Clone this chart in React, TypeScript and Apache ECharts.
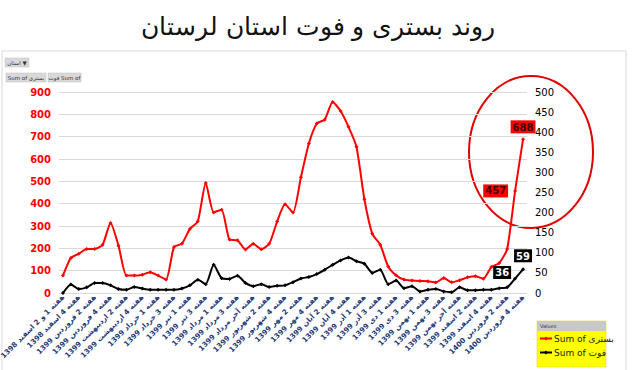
import React, { useEffect, useRef } from "react";
import * as echarts from "echarts";

const categories: string[] = [
  "هفته 1 و 2 اسفند 1398", "هفته 3 اسفند 1398", "هفته 4 اسفند 1398",
  "هفته 1 فروردین 1399", "هفته 2 فروردین 1399", "هفته 3 فروردین 1399", "هفته 4 فروردین 1399",
  "هفته 1 اردیبهشت 1399", "هفته 2 اردیبهشت 1399", "هفته 3 اردیبهشت 1399", "هفته 4 اردیبهشت 1399", "هفته آخر اردیبهشت 1399",
  "هفته 1 خرداد 1399", "هفته 2 خرداد 1399", "هفته 3 خرداد 1399", "هفته 4 خرداد 1399",
  "هفته 1 تیر 1399", "هفته 2 تیر 1399", "هفته 3 تیر 1399", "هفته 4 تیر 1399",
  "هفته 1 مرداد 1399", "هفته 2 مرداد 1399", "هفته 3 مرداد 1399", "هفته 4 مرداد 1399", "هفته آخر مرداد 1399",
  "هفته 1 شهریور 1399", "هفته 2 شهریور 1399", "هفته 3 شهریور 1399", "هفته 4 شهریور 1399",
  "هفته 1 مهر 1399", "هفته 2 مهر 1399", "هفته 3 مهر 1399", "هفته 4 مهر 1399",
  "هفته 1 آبان 1399", "هفته 2 آبان 1399", "هفته 3 آبان 1399", "هفته 4 آبان 1399", "هفته آخر آبان 1399",
  "هفته 1 آذر 1399", "هفته 2 آذر 1399", "هفته 3 آذر 1399", "هفته 4 آذر 1399",
  "هفته 1 دی 1399", "هفته 2 دی 1399", "هفته 3 دی 1399", "هفته 4 دی 1399",
  "هفته 1 بهمن 1399", "هفته 2 بهمن 1399", "هفته 3 بهمن 1399", "هفته 4 بهمن 1399", "هفته آخر بهمن 1399",
  "هفته 1 اسفند 1399", "هفته 2 اسفند 1399", "هفته 3 اسفند 1399", "هفته 4 اسفند 1399",
  "هفته 1 فروردین 1400", "هفته 2 فروردین 1400", "هفته 3 فروردین 1400", "هفته 4 فروردین 1400",
];

const hospitalized: number[] = [
  78, 157, 176, 197, 197, 216, 313, 212, 78, 78, 82, 93, 78, 60, 206, 221, 287, 321, 493, 361,
  373, 239, 236, 195, 220, 196, 220, 320, 397, 360, 518, 669, 759, 776, 855, 815, 744, 655, 420, 265,
  216, 119, 79, 60, 56, 54, 53, 47, 67, 48, 57, 70, 75, 64, 116, 134, 197, 457, 688,
];

const deaths: number[] = [
  0, 21, 10, 14, 25, 25, 19, 10, 8, 15, 11, 8, 8, 8, 8, 11, 19, 33, 22, 70,
  37, 35, 43, 25, 17, 22, 15, 18, 19, 27, 36, 40, 47, 58, 70, 81, 88, 79, 73, 50,
  58, 22, 31, 12, 17, 4, 8, 10, 4, 2, 14, 7, 7, 8, 8, 12, 14, 36, 59,
];

const leftTicks = { min: 0, max: 900, interval: 100 };
const rightTicks = { min: 0, max: 500, interval: 50 };

const titleText = "روند بستری و فوت استان لرستان";
const nameHosp = "Sum of بستری";
const nameDeath = "Sum of فوت";

export default function App() {
  const ref = useRef<HTMLDivElement>(null);
  useEffect(() => {
    if (!ref.current) return;
    const chart = echarts.init(ref.current, undefined, { renderer: "svg" });
    const n = hospitalized.length;
    const hospData = hospitalized.map((v, i) => {
      if (i === n - 1)
        return { value: v, label: { show: true, position: "top", distance: 4, formatter: "688" } };
      if (i === n - 2)
        return { value: v, label: { show: true, position: "left", distance: 5, formatter: "457" } };
      return v;
    });
    const deathData = deaths.map((v, i) => {
      if (i === n - 1)
        return { value: v, label: { show: true, position: "top", distance: 5, formatter: "59" } };
      if (i === n - 2)
        return { value: v, label: { show: true, position: "left", distance: 2, offset: [0, -6], formatter: "36" } };
      return v;
    });
    const btn = (x: number, y: number, w: number, h: number, t: string) => ({
      type: "group",
      children: [
        { type: "rect", shape: { x, y, width: w, height: h }, style: { fill: "#d9d9d9", stroke: "#bfbfbf", lineWidth: 0.5 } },
        { type: "text", x: x + w / 2, y: y + h / 2, style: { text: t, fontSize: 5.5, fill: "#333", align: "center", verticalAlign: "middle", fontFamily: "DejaVu Sans" } },
      ],
    });
    chart.setOption({
      animation: false,
      backgroundColor: "#ffffff",
      title: {
        text: titleText,
        left: 313,
        top: 9,
        textAlign: "center",
        textStyle: { fontSize: 25, fontWeight: 200, color: "#111", fontFamily: "DejaVu Sans" },
      },
      grid: { left: 59, right: 113, top: 92, bottom: 77, containLabel: false, outerBoundsMode: "none" },
      legend: {
        orient: "vertical",
        left: 539,
        top: 334,
        itemWidth: 12,
        itemHeight: 5,
        itemGap: 5,
        padding: 0,
        textStyle: { fontSize: 9, color: "#222", fontFamily: "DejaVu Sans", padding: [0, 0, 0, -3] },
        data: [nameHosp, nameDeath],
      },
      xAxis: {
        type: "category",
        data: categories,
        boundaryGap: true,
        axisLine: { show: false },
        axisTick: { show: false },
        axisLabel: {
          interval: 1,
          rotate: 45,
          fontSize: 7.2,
          fontWeight: "bold",
          color: "#1f3a7a",
          fontFamily: "DejaVu Sans",
          margin: 3,
        },
      },
      yAxis: [
        {
          type: "value",
          ...leftTicks,
          position: "left",
          axisLine: { show: false },
          axisTick: { show: false },
          splitLine: { lineStyle: { color: "#d9d9d9", width: 1 } },
          axisLabel: { color: "#ff0000", fontSize: 10, fontWeight: "bold", margin: 8, fontFamily: "DejaVu Sans" },
        },
        {
          type: "value",
          ...rightTicks,
          position: "right",
          axisLine: { show: false },
          axisTick: { show: false },
          splitLine: { show: false },
          axisLabel: { color: "#000", fontSize: 10, margin: 8, fontFamily: "DejaVu Sans" },
        },
      ],
      series: [
        {
          name: nameHosp,
          type: "line",
          yAxisIndex: 0,
          data: hospData,
          smooth: 0.2,
          symbol: "diamond",
          symbolSize: 4,
          lineStyle: { color: "#ff0000", width: 2 },
          itemStyle: { color: "#ff0000" },
          label: {
            show: false,
            backgroundColor: "#ff0000",
            color: "#400000",
            fontSize: 10,
            fontWeight: "bold",
            padding: [2, 2, 1, 2],
            fontFamily: "DejaVu Sans",
          },
          z: 3,
        },
        {
          name: nameDeath,
          type: "line",
          yAxisIndex: 1,
          data: deathData,
          smooth: 0.2,
          symbol: "diamond",
          symbolSize: 4,
          lineStyle: { color: "#000000", width: 2 },
          itemStyle: { color: "#000000" },
          label: {
            show: false,
            backgroundColor: "#000000",
            color: "#ffffff",
            fontSize: 10,
            fontWeight: "bold",
            padding: [2, 2, 1, 2],
            fontFamily: "DejaVu Sans",
          },
          z: 4,
        },
      ],
      graphic: [
        { type: "rect", z: -10, shape: { x: 2, y: 51, width: 624, height: 330 }, style: { fill: "none", stroke: "#d9d9d9", lineWidth: 1 } },
        btn(5, 58, 24, 9, "استان ▼"),
        btn(6, 73, 40, 9, nameHosp),
        btn(48, 73, 33, 9, "فوت Sum of"),
        { type: "rect", z: -5, shape: { x: 537, y: 321, width: 69, height: 46 }, style: { fill: "#ffff00", stroke: "#e0d000", lineWidth: 0.5 } },
        { type: "rect", z: -4, shape: { x: 537, y: 321, width: 69, height: 10 }, style: { fill: "#c8c8c8" } },
        { type: "text", z: -3, x: 540, y: 326, style: { text: "Values", fontSize: 5, fill: "#333", verticalAlign: "middle", fontFamily: "DejaVu Sans" } },
        { type: "ellipse", shape: { cx: 531, cy: 152, rx: 62, ry: 76 }, style: { fill: "none", stroke: "#e00000", lineWidth: 2 } },
      ],
    });
    return () => chart.dispose();
  }, []);
  return <div ref={ref} style={{ width: 640, height: 370, position: "absolute", left: 0, top: 0 }} />;
}
